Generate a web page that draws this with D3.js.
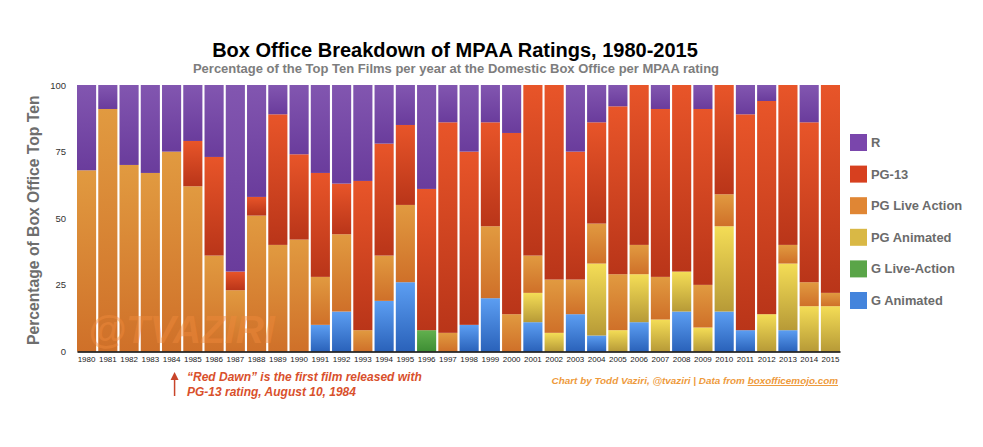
<!DOCTYPE html>
<html>
<head>
<meta charset="utf-8">
<script src="https://cdnjs.cloudflare.com/ajax/libs/d3/7.8.5/d3.min.js"></script>
<style>
  html, body { margin: 0; padding: 0; background: #fff; }
  text { font-family: "Liberation Sans", Arial, sans-serif; }
</style>
</head>
<body>
<div id="chart"></div>
<script>
const years = d3.range(1980, 2016).map(String);
const gAnimated = [0,0,0,0,0,0,0,0,0,0,0,10,15,0,19,26,0,0,10,20,0,11,0,14,6,0,11,0,15,0,15,8,0,8,0,0];
const gLive =     [0,0,0,0,0,0,0,0,0,0,0,0,0,0,0,0,8,0,0,0,0,0,0,0,0,0,0,0,0,0,0,0,0,0,0,0];
const pgAnimated =[0,0,0,0,0,0,0,0,0,0,0,0,0,0,0,0,0,0,0,0,0,11,7,0,27,8,18,12,15,9,32,0,14,25,17,17];
const pgLive =    [68,91,70,67,75,62,36,23,51,40,42,18,29,8,17,29,0,7,0,27,14,14,20,13,15,21,11,16,0,16,12,0,0,7,9,5];
const pg13 =      [0,0,0,0,0,17,37,7,7,49,32,39,19,56,42,30,53,79,65,39,68,64,73,48,38,63,60,63,70,66,41,81,80,60,60,78];
const rated =     [32,9,30,33,25,21,27,70,42,11,26,33,37,36,22,15,39,14,25,14,18,0,0,25,14,8,0,9,0,9,0,11,6,0,14,0];

const seriesNames = ["G Animated", "G Live-Action", "PG Animated", "PG Live Action", "PG-13", "R"];
const seriesValues = [gAnimated, gLive, pgAnimated, pgLive, pg13, rated];
const legendOrder = ["R", "PG-13", "PG Live Action", "PG Animated", "G Live-Action", "G Animated"];
const yTicks = [0, 25, 50, 75, 100];

const legendColor = {
    "R": "#7a46ac",
    "PG-13": "#d7401f",
    "PG Live Action": "#e08634",
    "PG Animated": "#d9b845",
    "G Live-Action": "#5aa548",
    "G Animated": "#4484dc"
};
// top and bottom of the gradient inside each bar segment
const gradientStops = {
    "R": ["#8256b0", "#6a3c9c"],
    "PG-13": ["#e85529", "#b93519"],
    "PG Live Action": ["#e19a40", "#cf7029"],
    "PG Animated": ["#f4dd56", "#b79a37"],
    "G Live-Action": ["#62b04e", "#3e8e34"],
    "G Animated": ["#5c9ef2", "#2a62ba"]
};

const W = 983, H = 447;
const margin = {top: 85, right: 143, bottom: 95.5, left: 77};

const svg = d3.select("#chart").append("svg")
    .attr("width", W)
    .attr("height", H)
    .style("display", "block");

const defs = svg.append("defs");
seriesNames.forEach((name, i) => {
    const grad = defs.append("linearGradient")
        .attr("id", "grad" + i)
        .attr("x1", 0).attr("x2", 0).attr("y1", 0).attr("y2", 1);
    grad.append("stop").attr("offset", "0%").attr("stop-color", gradientStops[name][0]);
    grad.append("stop").attr("offset", "100%").attr("stop-color", gradientStops[name][1]);
});

const x = d3.scaleBand()
    .domain(years)
    .range([margin.left, W - margin.right])
    .paddingInner(0.1)
    .paddingOuter(0);

const y = d3.scaleLinear()
    .domain([0, 100])
    .range([H - margin.bottom, margin.top]);

const rows = years.map((year, i) => {
    const row = {year};
    seriesNames.forEach((name, s) => { row[name] = seriesValues[s][i]; });
    return row;
});
const stacked = d3.stack().keys(seriesNames)(rows);

svg.append("g")
    .selectAll("g")
    .data(stacked)
    .join("g")
    .attr("fill", (d, i) => `url(#grad${i})`)
    .selectAll("rect")
    .data(d => d.filter(p => p[1] > p[0]))
    .join("rect")
    .attr("x", d => x(d.data.year))
    .attr("y", d => y(d[1]))
    .attr("width", x.bandwidth())
    .attr("height", d => y(d[0]) - y(d[1]));

// axes
const xAxis = svg.append("g")
    .attr("transform", `translate(0, ${y(0)})`)
    .call(d3.axisBottom(x).tickSize(0).tickPadding(5));
xAxis.select(".domain").attr("stroke", "#000").attr("stroke-width", 1.5);
xAxis.selectAll("text")
    .style("font-size", "8px")
    .attr("fill", "#222");

const yAxis = svg.append("g")
    .attr("transform", `translate(${margin.left}, 0)`)
    .call(d3.axisLeft(y).tickValues(yTicks).tickSize(0).tickPadding(11));
yAxis.select(".domain").remove();
yAxis.selectAll("text")
    .style("font-size", "9.5px")
    .attr("fill", "#333");

svg.append("text")
    .attr("transform", `translate(39, ${y(50) + 2}) rotate(-90)`)
    .attr("text-anchor", "middle")
    .style("font-size", "15.7px")
    .style("font-weight", "bold")
    .attr("fill", "#6e6e6e")
    .text("Percentage of Box Office Top Ten");

// watermark
svg.append("text")
    .attr("x", 88)
    .attr("y", 343)
    .style("font-size", "39px")
    .style("font-weight", "bold")
    .style("font-style", "italic")
    .attr("fill", "#f08a3c")
    .attr("opacity", 0.45)
    .text("@TVAZIRI");

// titles
svg.append("text")
    .attr("x", 455)
    .attr("y", 57)
    .attr("text-anchor", "middle")
    .style("font-size", "20px")
    .style("font-weight", "bold")
    .attr("fill", "#000")
    .text("Box Office Breakdown of MPAA Ratings, 1980-2015");

svg.append("text")
    .attr("x", 456)
    .attr("y", 73)
    .attr("text-anchor", "middle")
    .style("font-size", "13px")
    .style("font-weight", "bold")
    .attr("fill", "#7d7d7d")
    .text("Percentage of the Top Ten Films per year at the Domestic Box Office per MPAA rating");

// legend
const legend = svg.append("g")
    .selectAll("g")
    .data(legendOrder)
    .join("g")
    .attr("transform", (d, i) => `translate(850, ${134 + i * 31.6})`);

legend.append("rect")
    .attr("width", 17)
    .attr("height", 17)
    .attr("fill", d => legendColor[d]);

legend.append("text")
    .attr("x", 21)
    .attr("y", 13)
    .style("font-size", "12.9px")
    .style("font-weight", "bold")
    .attr("fill", "#6b6b6b")
    .text(d => d);

// Red Dawn note
const noteColor = "#d9502c";
const arrowX = x("1984") + x.bandwidth() / 2 + 3;
svg.append("line")
    .attr("x1", arrowX).attr("x2", arrowX)
    .attr("y1", 396).attr("y2", 378)
    .attr("stroke", "#c8452a")
    .attr("stroke-width", 1.5);
svg.append("path")
    .attr("d", d3.line()([[arrowX - 4, 380], [arrowX, 372], [arrowX + 4, 380]]))
    .attr("fill", "#c8452a");

const note = svg.append("text")
    .style("font-size", "12px")
    .style("font-weight", "bold")
    .style("font-style", "italic")
    .attr("fill", noteColor);
note.append("tspan").attr("x", 187).attr("y", 381).text("\u201CRed Dawn\u201D is the first film released with");
note.append("tspan").attr("x", 187).attr("y", 396).text("PG-13 rating, August 10, 1984");

// credit
const credit = svg.append("text")
    .attr("x", 838)
    .attr("y", 384)
    .attr("text-anchor", "end")
    .style("font-size", "9.9px")
    .style("font-weight", "bold")
    .style("font-style", "italic")
    .attr("fill", "#ee9a3c");
credit.append("tspan").text("Chart by Todd Vaziri, @tvaziri | Data from ");
credit.append("tspan").attr("text-decoration", "underline").text("boxofficemojo.com");
</script>
</body>
</html>
